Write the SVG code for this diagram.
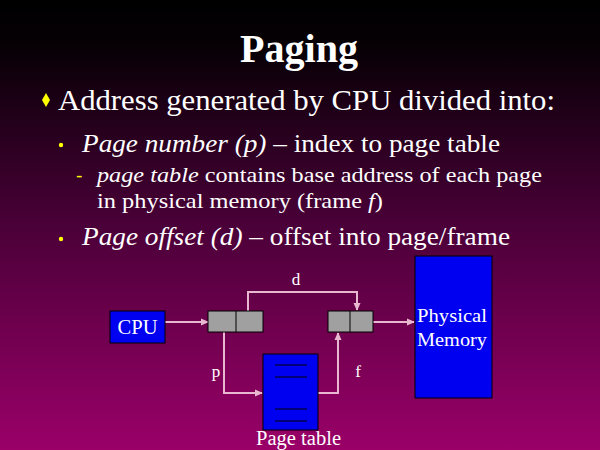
<svg xmlns="http://www.w3.org/2000/svg" width="600" height="450" viewBox="0 0 600 450">
<defs>
<linearGradient id="bg" x1="0" y1="0" x2="0" y2="1">
<stop offset="0" stop-color="#000000"/>
<stop offset="0.1" stop-color="#060005"/>
<stop offset="0.5" stop-color="#4a0038"/>
<stop offset="1" stop-color="#9a0068"/>
</linearGradient>
<marker id="ah" markerWidth="8" markerHeight="8" refX="7" refY="4" orient="auto" markerUnits="userSpaceOnUse">
<path d="M0,0.5 L8,4 L0,7.5 Z" fill="#e8b8d0"/>
</marker>
<style>
.t{font-family:"Liberation Serif","Times New Roman",serif;fill:#ffffff}
.conn{fill:none;stroke:#e8b8d0;stroke-width:2;marker-end:url(#ah)}
.blue{fill:#0000f0;stroke:#000000;stroke-width:1}
.gray{fill:#a0a0a0;stroke:#000000;stroke-width:1}
.bl{font-family:"DejaVu Sans",sans-serif;fill:#ffff00}
</style>
</defs>
<rect x="0" y="0" width="600" height="450" fill="url(#bg)"/>
<text class="t" x="299" y="62" font-size="40" font-weight="bold" text-anchor="middle" textLength="118" lengthAdjust="spacingAndGlyphs">Paging</text>
<path d="M46,93 L50,100 L46,107 L42,100 Z" fill="#ffff00"/>
<text class="t" x="58" y="110" font-size="30" textLength="497" lengthAdjust="spacingAndGlyphs">Address generated by CPU divided into:</text>
<circle cx="61" cy="145" r="2.2" fill="#ffff00"/>
<text class="t" x="82" y="152" font-size="26" textLength="418" lengthAdjust="spacingAndGlyphs"><tspan font-style="italic">Page number (p)</tspan> – index to page table</text>
<text class="bl" x="76" y="181" font-size="18">-</text>
<text class="t" x="97" y="182" font-size="22" textLength="445" lengthAdjust="spacingAndGlyphs"><tspan font-style="italic">page table</tspan> contains base address of each page</text>
<text class="t" x="97" y="208" font-size="22" textLength="286" lengthAdjust="spacingAndGlyphs">in physical memory (frame <tspan font-style="italic">f</tspan>)</text>
<circle cx="61" cy="239" r="2.2" fill="#ffff00"/>
<text class="t" x="82" y="245" font-size="26" textLength="428" lengthAdjust="spacingAndGlyphs"><tspan font-style="italic">Page offset (d)</tspan> – offset into page/frame</text>
<g id="connectors">
<path class="conn" d="M165,322 L208,322"/>
<path class="conn" d="M248,311 L248,292 L357,292 L357,310"/>
<path class="conn" d="M224,332 L224,393 L262,393"/>
<path class="conn" d="M318,393 L338,393 L338,333"/>
<path class="conn" d="M373,322 L414,322"/>
</g>
<g id="cpu">
<rect class="blue" x="110" y="311" width="55" height="32"/>
<text class="t" x="137.5" y="334" font-size="20" text-anchor="middle" textLength="40" lengthAdjust="spacingAndGlyphs">CPU</text>
</g>
<g id="logical">
<rect class="gray" x="208" y="311" width="55" height="21"/>
<line x1="236" y1="311" x2="236" y2="332" stroke="#000" stroke-width="1"/>
</g>
<g id="physical-address">
<rect class="gray" x="328" y="311" width="45" height="21"/>
<line x1="350" y1="311" x2="350" y2="332" stroke="#000" stroke-width="1"/>
</g>
<g id="page-table">
<rect class="blue" x="263" y="354" width="55" height="76"/>
<g stroke="#000" stroke-width="1">
<line x1="275" y1="365" x2="307" y2="365"/>
<line x1="275" y1="377" x2="307" y2="377"/>
<line x1="275" y1="409" x2="307" y2="409"/>
<line x1="275" y1="421" x2="307" y2="421"/>
</g>
<text class="t" x="298.5" y="445" font-size="20" text-anchor="middle" textLength="85" lengthAdjust="spacingAndGlyphs">Page table</text>
</g>
<g id="memory">
<rect class="blue" x="415" y="256" width="77" height="142"/>
<text class="t" x="452" y="322" font-size="19" text-anchor="middle" textLength="70" lengthAdjust="spacingAndGlyphs">Physical</text>
<text class="t" x="452" y="346" font-size="19" text-anchor="middle" textLength="70" lengthAdjust="spacingAndGlyphs">Memory</text>
</g>
<text class="t" x="296" y="285" font-size="17" text-anchor="middle">d</text>
<text class="t" x="216" y="377" font-size="17" text-anchor="middle">p</text>
<text class="t" x="358" y="377" font-size="17" text-anchor="middle">f</text>
</svg>
